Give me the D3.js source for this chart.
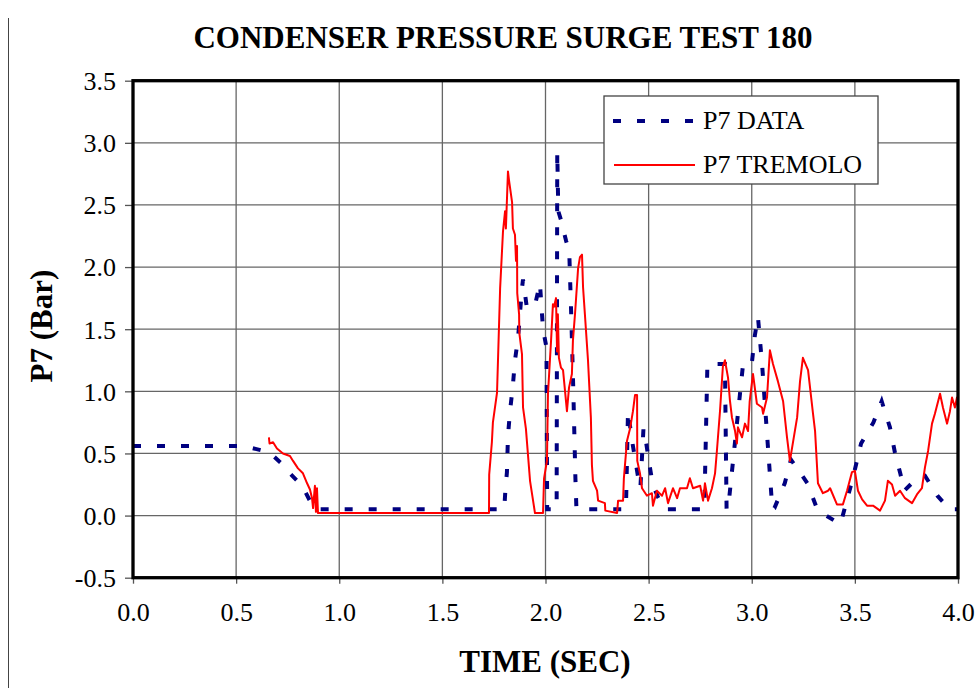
<!DOCTYPE html>
<html>
<head>
<meta charset="utf-8">
<script src="https://d3js.org/d3.v7.min.js"></script>
<style>
body { margin: 0; background: #fff; }
svg { display: block; }
text { font-family: "Liberation Serif", "Times New Roman", serif; fill: #000; }
.axis path { display: none; }
.axis line { stroke: #555; stroke-width: 1.3; }
.grid line { stroke: #666; stroke-width: 1.3; }
</style>
</head>
<body>
<svg width="978" height="688"></svg>
<script>
var dataTime = [0.00, 0.52, 0.56, 0.66, 0.72, 0.76, 0.82, 0.87, 0.89, 1.80,
    1.805, 1.813, 1.818, 1.828, 1.842, 1.852, 1.867, 1.876, 1.886, 1.891,
    1.91, 1.95, 1.973, 1.988, 2.005, 2.008, 2.054, 2.057, 2.062, 2.075,
    2.10, 2.115, 2.125, 2.135, 2.145, 2.15, 2.39, 2.40, 2.42, 2.45,
    2.46, 2.475, 2.48, 2.50, 2.52, 2.545, 2.58, 2.77, 2.785, 2.87,
    2.878, 2.885, 2.958, 3.00, 3.015, 3.03, 3.04, 3.05, 3.10, 3.11,
    3.16, 3.19, 3.22, 3.27, 3.32, 3.43, 3.49, 3.53, 3.59, 3.63,
    3.67, 3.695, 3.72, 3.74, 3.80, 3.84, 3.90, 3.96, 4.00];
var dataValue = [0.56, 0.56, 0.55, 0.51, 0.42, 0.34, 0.24, 0.08, 0.05, 0.05,
    0.19, 0.35, 0.64, 0.84, 1.05, 1.25, 1.43, 1.62, 1.83, 1.90,
    1.67, 1.70, 1.87, 1.50, 1.35, 0.05, 0.05, 2.93, 2.45, 2.38,
    2.21, 2.13, 1.60, 1.00, 0.30, 0.05, 0.05, 0.84, 0.60, 0.30,
    0.22, 0.70, 0.68, 0.45, 0.25, 0.15, 0.05, 0.05, 1.22, 1.22,
    0.05, 0.05, 1.22, 1.22, 1.45, 1.60, 1.41, 1.22, 0.05, 0.06,
    0.26, 0.45, 0.38, 0.26, 0.04, -0.07, 0.30, 0.58, 0.75, 0.92,
    0.71, 0.50, 0.34, 0.20, 0.30, 0.32, 0.16, 0.05, 0.05];

// P7 TREMOLO (computed)
var tremoloTime = [0.659, 0.662, 0.679, 0.698, 0.727, 0.761, 0.776, 0.800, 0.824, 0.844,
    0.858, 0.868, 0.873, 0.882, 0.887, 0.892, 0.897, 1.726, 1.727, 1.740,
    1.745, 1.765, 1.770, 1.780, 1.794, 1.804, 1.808, 1.818, 1.823, 1.838,
    1.842, 1.852, 1.857, 1.862, 1.863, 1.872, 1.873, 1.886, 1.891, 1.905,
    1.925, 1.949, 1.988, 1.993, 2.007, 2.012, 2.027, 2.036, 2.041, 2.051,
    2.056, 2.060, 2.065, 2.075, 2.085, 2.104, 2.114, 2.128, 2.133, 2.143,
    2.158, 2.167, 2.177, 2.182, 2.191, 2.206, 2.220, 2.225, 2.230, 2.250,
    2.255, 2.288, 2.290, 2.347, 2.352, 2.376, 2.380, 2.395, 2.410, 2.424,
    2.434, 2.444, 2.445, 2.458, 2.468, 2.492, 2.516, 2.521, 2.540, 2.565,
    2.580, 2.594, 2.618, 2.638, 2.652, 2.686, 2.700, 2.715, 2.750, 2.764,
    2.773, 2.788, 2.807, 2.822, 2.831, 2.846, 2.860, 2.870, 2.885, 2.894,
    2.904, 2.919, 2.928, 2.933, 2.953, 2.967, 2.982, 2.990, 3.006, 3.025,
    3.050, 3.055, 3.074, 3.088, 3.103, 3.127, 3.152, 3.171, 3.185, 3.220,
    3.234, 3.248, 3.273, 3.297, 3.307, 3.321, 3.345, 3.370, 3.380, 3.413,
    3.442, 3.462, 3.486, 3.500, 3.515, 3.535, 3.559, 3.588, 3.622, 3.646,
    3.660, 3.680, 3.695, 3.719, 3.743, 3.777, 3.801, 3.825, 3.840, 3.855,
    3.874, 3.888, 3.913, 3.927, 3.947, 3.961, 3.971, 3.985, 3.995, 4.000];
var tremoloValue = [0.63, 0.58, 0.59, 0.54, 0.50, 0.48, 0.44, 0.38, 0.34, 0.26,
    0.21, 0.14, 0.06, 0.24, 0.03, 0.22, 0.02, 0.02, 0.33, 0.59,
    0.75, 0.99, 1.27, 1.83, 2.29, 2.45, 2.31, 2.77, 2.70, 2.52,
    2.31, 2.26, 2.05, 2.17, 1.79, 1.62, 1.47, 1.30, 0.87, 0.70,
    0.28, 0.02, 0.02, 0.30, 0.44, 0.98, 1.41, 1.70, 1.68, 1.75,
    1.32, 1.62, 1.27, 1.19, 1.17, 0.84, 1.03, 1.14, 1.41, 1.62,
    1.99, 2.08, 2.10, 1.84, 1.62, 1.25, 0.79, 0.41, 0.28, 0.20,
    0.12, 0.10, 0.04, 0.02, 0.12, 0.12, 0.30, 0.60, 0.70, 0.84,
    0.97, 0.97, 0.44, 0.34, 0.22, 0.16, 0.18, 0.08, 0.20, 0.16,
    0.22, 0.10, 0.22, 0.14, 0.22, 0.22, 0.30, 0.22, 0.24, 0.12,
    0.26, 0.12, 0.22, 0.34, 0.52, 0.84, 1.20, 1.25, 1.11, 0.93,
    0.79, 0.68, 0.58, 0.71, 0.63, 0.74, 0.68, 0.92, 1.14, 0.90,
    0.87, 0.82, 0.95, 1.33, 1.22, 1.08, 0.92, 0.63, 0.44, 0.79,
    1.08, 1.27, 1.17, 0.82, 0.68, 0.26, 0.18, 0.20, 0.22, 0.09,
    0.09, 0.20, 0.35, 0.36, 0.20, 0.13, 0.08, 0.08, 0.04, 0.12,
    0.28, 0.25, 0.16, 0.20, 0.14, 0.10, 0.17, 0.22, 0.39, 0.52,
    0.74, 0.82, 0.98, 0.87, 0.74, 0.84, 0.95, 0.87, 0.95, 0.87];

var xTicks = [0, 0.5, 1, 1.5, 2, 2.5, 3, 3.5, 4];
var yTicks = [-0.5, 0, 0.5, 1, 1.5, 2, 2.5, 3, 3.5];
var seriesNames = ["P7 DATA", "P7 TREMOLO"];

var svg = d3.select("svg");
var margin = {top: 80.7, right: 20, bottom: 110.3, left: 133};
var width = 978 - margin.left - margin.right,
    height = 688 - margin.top - margin.bottom;

var x = d3.scaleLinear().domain([0, 4]).range([0, width]);
var y = d3.scaleLinear().domain([-0.5, 3.5]).range([height, 0]);
// plain hyphen for negatives, like the original
var fmt = function(d) { return d.toFixed(1); };

// stray frame line on the left edge
svg.append("line")
    .attr("x1", 8.5).attr("x2", 8.5)
    .attr("y1", 18).attr("y2", 688)
    .attr("stroke", "#444").attr("stroke-width", 1);

// title
svg.append("text")
    .attr("x", 503).attr("y", 48)
    .attr("text-anchor", "middle")
    .style("font-size", "31px").style("font-weight", "bold")
    .text("CONDENSER PRESSURE SURGE TEST 180");

var g = svg.append("g").attr("transform", "translate(" + margin.left + "," + margin.top + ")");

// grid
g.append("g").attr("class", "grid")
    .selectAll("line.v").data(xTicks).enter().append("line")
    .attr("x1", function(d) { return x(d); }).attr("x2", function(d) { return x(d); })
    .attr("y1", 0).attr("y2", height);
g.select(".grid")
    .selectAll("line.h").data(yTicks).enter().append("line")
    .attr("x1", 0).attr("x2", width)
    .attr("y1", function(d) { return y(d); }).attr("y2", function(d) { return y(d); });

// axes
g.append("g")
    .attr("class", "axis")
    .call(d3.axisLeft(y).tickValues(yTicks).tickFormat(fmt).tickSize(8).tickPadding(9))
    .selectAll("text").style("font-size", "26px").attr("dy", "0.34em");

g.append("g")
    .attr("class", "axis")
    .attr("transform", "translate(0," + height + ")")
    .call(d3.axisBottom(x).tickValues(xTicks).tickFormat(fmt).tickSize(6).tickPadding(19))
    .selectAll("text").style("font-size", "26px");

g.selectAll(".axis .tick").select("text").attr("fill", "#000");

// lines
svg.append("clipPath").attr("id", "plot-clip")
    .append("rect").attr("width", width).attr("height", height);

var dataPoints = dataTime.map(function(t, i) { return [t, dataValue[i]]; });
var tremoloPoints = tremoloTime.map(function(t, i) { return [t, tremoloValue[i]]; });

var line = d3.line()
    .x(function(d) { return x(d[0]); })
    .y(function(d) { return y(d[1]); });

g.append("path")
    .datum(dataPoints)
    .attr("clip-path", "url(#plot-clip)")
    .attr("fill", "none")
    .attr("stroke", "#000080")
    .attr("stroke-width", 4)
    .attr("stroke-dasharray", "8,16")
    .attr("d", line);

g.append("path")
    .datum(tremoloPoints)
    .attr("clip-path", "url(#plot-clip)")
    .attr("fill", "none")
    .attr("stroke", "#ff0000")
    .attr("stroke-width", 2)
    .attr("stroke-linejoin", "round")
    .attr("d", line);

// plot border
g.append("rect")
    .attr("width", width).attr("height", height)
    .attr("fill", "none").attr("stroke", "#000").attr("stroke-width", 3.3);

// axis titles
svg.append("text")
    .attr("x", 545).attr("y", 672)
    .attr("text-anchor", "middle")
    .style("font-size", "31px").style("font-weight", "bold")
    .text("TIME (SEC)");

svg.append("text")
    .attr("transform", "translate(52,326) rotate(-90)")
    .attr("text-anchor", "middle")
    .style("font-size", "31px").style("font-weight", "bold")
    .text("P7 (Bar)");

//Legend
var legend = svg.append("g").attr("transform", "translate(604,96)");
legend.append("rect")
    .attr("width", 274).attr("height", 88)
    .attr("fill", "#fff").attr("stroke", "#444").attr("stroke-width", 1.3);

legend.append("line")
    .attr("x1", 9).attr("x2", 93).attr("y1", 25).attr("y2", 25)
    .attr("stroke", "#000080").attr("stroke-width", 4)
    .attr("stroke-dasharray", "8,16");
legend.append("line")
    .attr("x1", 10).attr("x2", 91).attr("y1", 69).attr("y2", 69)
    .attr("stroke", "#ff0000").attr("stroke-width", 2);

legend.selectAll("text.leg").data(seriesNames).enter().append("text")
    .attr("x", 99)
    .attr("y", function(d, i) { return 33 + i * 44; })
    .style("font-size", "26px")
    .text(function(d) { return d; });
</script>
</body>
</html>
